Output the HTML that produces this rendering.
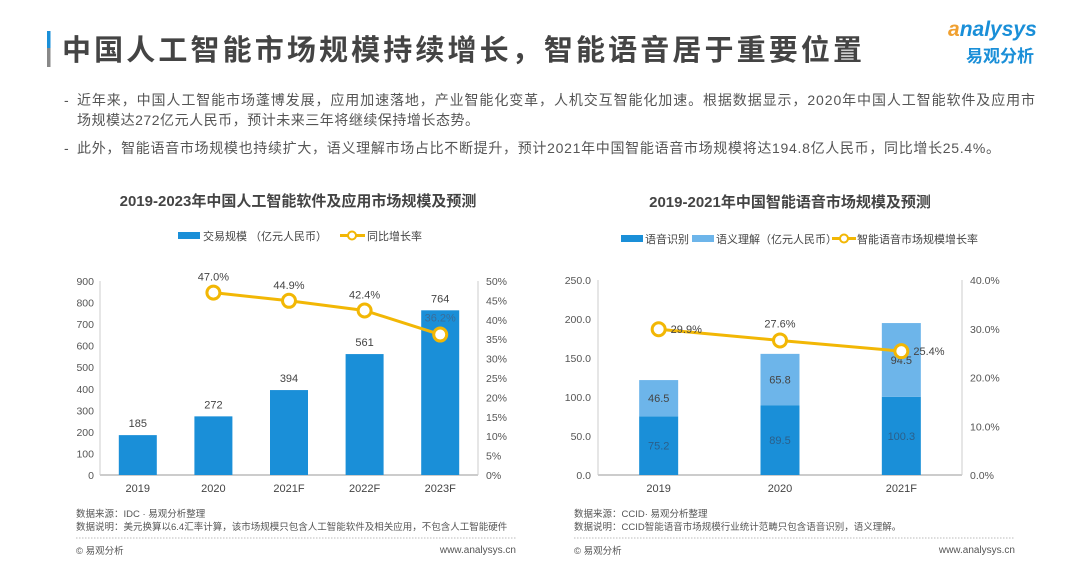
<!DOCTYPE html>
<html><head><meta charset="utf-8"><style>
html,body{margin:0;padding:0;background:#fff;}
svg{display:block;font-family:"Liberation Sans","Noto Sans CJK SC",sans-serif;}
</style></head><body>
<svg id="s" width="1080" height="578" viewBox="0 0 1080 578">
<rect x="47" y="31" width="3.5" height="17" fill="#1a8fd8"/>
<rect x="47" y="48" width="3.5" height="19" fill="#888"/>
<text x="62" y="60" font-size="29" font-weight="bold" fill="#444" textLength="800">中国人工智能市场规模持续增长，智能语音居于重要位置</text>
<g>
<text x="948" y="36" font-size="21" font-weight="bold" fill="#1a8fd8" font-style="italic"><tspan fill="#f0a030">a</tspan>nalysys</text>
<text x="966" y="62" font-size="17" font-weight="bold" fill="#1a8fd8">易观分析</text>
</g>
<g font-size="14" fill="#555">
<text x="64" y="105">-</text>
<text x="77" y="105" textLength="958">近年来，中国人工智能市场蓬博发展，应用加速落地，产业智能化变革，人机交互智能化加速。根据数据显示，2020年中国人工智能软件及应用市</text>
<text x="77" y="125" textLength="402">场规模达272亿元人民币，预计未来三年将继续保持增长态势。</text>
<text x="64" y="153">-</text>
<text x="77" y="153" textLength="923">此外，智能语音市场规模也持续扩大，语义理解市场占比不断提升，预计2021年中国智能语音市场规模将达194.8亿人民币，同比增长25.4%。</text>
</g>
<g id="c1"></g>
<g id="c2"></g>
</svg>
<script>
const c1Categories=["2019","2020","2021F","2022F","2023F"];
const c1Values=[185,272,394,561,764];
const c1Growth=[null,47.0,44.9,42.4,36.2];
const c1LeftTicks=[0,100,200,300,400,500,600,700,800,900];
const c1RightTicks=[0,5,10,15,20,25,30,35,40,45,50];

const c2Categories=["2019","2020","2021F"];
const c2Speech=[75.2,89.5,100.3];
const c2Semantic=[46.5,65.8,94.5];
const c2Growth=[29.9,27.6,25.4];
const c2LeftTicks=[0,50,100,150,200,250];
const c2RightTicks=[0,10,20,30,40];

const NS="http://www.w3.org/2000/svg";
function mk(parent,tag,attrs,txt){const e=document.createElementNS(NS,tag);for(const k in attrs)e.setAttribute(k,attrs[k]);if(txt!==undefined)e.textContent=txt;parent.appendChild(e);return e;}
const BLUE="#1a8fd8",LIGHT="#6db5ea",YEL="#f2b705",AX="#555";

function common(g,o){
  let t=mk(g,'text',{x:o.cx,y:o.ty,'font-size':15,'font-weight':'bold',fill:'#444','text-anchor':'middle'},o.title);
  
  
  mk(g,'line',{x1:o.x0,y1:o.y0,x2:o.x1,y2:o.y0,stroke:'#999'});
  mk(g,'line',{x1:o.x0,y1:o.y0,x2:o.x0,y2:o.yt,stroke:'#ccc'});
  mk(g,'line',{x1:o.x1,y1:o.y0,x2:o.x1,y2:o.yt,stroke:'#ccc'});
  const s1=mk(g,'text',{x:o.fx,y:517,'font-size':9.5,fill:'#555'},o.src);
  
  
  const s2=mk(g,'text',{x:o.fx,y:530,'font-size':9.5,fill:'#555'},o.note);
  
  
  mk(g,'line',{x1:o.fx,y1:538,x2:o.fr,y2:538,stroke:'#bbb','stroke-dasharray':'1.5 1.5'});
  const c=mk(g,'text',{x:o.fx,y:554,'font-size':9.5,fill:'#555'},'© 易观分析');
  
  
  const w=mk(g,'text',{x:o.fr,y:553,'font-size':10,fill:'#555','text-anchor':'end'},'www.analysys.cn');
  
  
}

// Chart 1
(function(){
  const g=document.getElementById('c1');
  const x0=100,x1=478,y0=475,yt=281;
  const yL=v=>y0-(v/900)*(y0-yt);
  const yR=v=>y0-(v/50)*(y0-yt);
  const step=(x1-x0)/c1Categories.length;
  const xc=i=>x0+step*(i+0.5);
  common(g,{cx:298,ty:206,title:'2019-2023年中国人工智能软件及应用市场规模及预测',x0,x1,y0,yt,fx:76,fr:516,
    src:'数据来源：IDC · 易观分析整理',note:'数据说明：美元换算以6.4汇率计算，该市场规模只包含人工智能软件及相关应用，不包含人工智能硬件'});
  let e;
  e=mk(g,'rect',{x:178,y:232,width:22,height:7,fill:BLUE});
  
  
  e=mk(g,'text',{x:203,y:240,'font-size':11,fill:'#444'},'交易规模 （亿元人民币）');
  
  
  mk(g,'line',{x1:340,y1:235.5,x2:365,y2:235.5,stroke:YEL,'stroke-width':3});
  e=mk(g,'circle',{cx:352,cy:235.5,r:4,fill:'#fff',stroke:YEL,'stroke-width':2});
  
  
  e=mk(g,'text',{x:367,y:240,'font-size':11,fill:'#444'},'同比增长率');
  
  
  c1LeftTicks.forEach(v=>{
    const t=mk(g,'text',{x:94,y:yL(v)+4,'font-size':10.5,fill:AX,'text-anchor':'end'},String(v));
    
    
  });
  c1RightTicks.forEach(v=>{
    const t=mk(g,'text',{x:486,y:yR(v)+4,'font-size':10.5,fill:AX},v+'%');
    
    
  });
  c1Categories.forEach((c,i)=>{
    const b=mk(g,'rect',{x:xc(i)-19,y:yL(c1Values[i]),width:38,height:y0-yL(c1Values[i]),fill:BLUE});
    
    
    const l=mk(g,'text',{x:xc(i),y:yL(c1Values[i])-8,'font-size':11,fill:'#444','text-anchor':'middle'},String(c1Values[i]));
    
    
    const xl=mk(g,'text',{x:xc(i),y:y0+17,'font-size':11,fill:'#444','text-anchor':'middle'},c);
    
    
  });
  const pts=[];
  c1Growth.forEach((v,i)=>{if(v!==null)pts.push([xc(i),yR(v),v]);});
  const ln=mk(g,'polyline',{points:pts.map(p=>p[0]+','+p[1]).join(' '),fill:'none',stroke:YEL,'stroke-width':3});
  
  
  pts.forEach((p,k)=>{
    const c=mk(g,'circle',{cx:p[0],cy:p[1],r:6.5,fill:'#fff',stroke:YEL,'stroke-width':3});
    
    
    const last=k===pts.length-1;
    const t=mk(g,'text',{x:p[0],y:last?p[1]-13:p[1]-12,'font-size':11,fill:last?'#3a6d99':'#444','text-anchor':'middle'},p[2].toFixed(1)+'%');
    
    
  });
})();

// Chart 2
(function(){
  const g=document.getElementById('c2');
  const x0=598,x1=962,y0=475,yt=280;
  const yL=v=>y0-(v/250)*(y0-yt);
  const yR=v=>y0-(v/40)*(y0-yt);
  const step=(x1-x0)/c2Categories.length;
  const xc=i=>x0+step*(i+0.5);
  common(g,{cx:790,ty:207,title:'2019-2021年中国智能语音市场规模及预测',x0,x1,y0,yt,fx:574,fr:1015,
    src:'数据来源：CCID· 易观分析整理',note:'数据说明：CCID智能语音市场规模行业统计范畴只包含语音识别，语义理解。'});
  let e;
  e=mk(g,'rect',{x:621,y:235,width:22,height:7,fill:BLUE});
  
  
  e=mk(g,'text',{x:645,y:243,'font-size':11,fill:'#444'},'语音识别');
  
  
  e=mk(g,'rect',{x:692,y:235,width:22,height:7,fill:LIGHT});
  
  
  e=mk(g,'text',{x:716,y:243,'font-size':11,fill:'#444'},'语义理解（亿元人民币）');
  
  
  mk(g,'line',{x1:832,y1:238.5,x2:856,y2:238.5,stroke:YEL,'stroke-width':3});
  e=mk(g,'circle',{cx:844,cy:238.5,r:4,fill:'#fff',stroke:YEL,'stroke-width':2});
  
  
  e=mk(g,'text',{x:857,y:243,'font-size':11,fill:'#444'},'智能语音市场规模增长率');
  
  
  c2LeftTicks.forEach(v=>{
    const t=mk(g,'text',{x:591,y:yL(v)+4,'font-size':10.5,fill:AX,'text-anchor':'end'},v.toFixed(1));
    
    
  });
  c2RightTicks.forEach(v=>{
    const t=mk(g,'text',{x:970,y:yR(v)+4,'font-size':10.5,fill:AX},v.toFixed(1)+'%');
    
    
  });
  c2Categories.forEach((c,i)=>{
    const s=c2Speech[i],m=c2Semantic[i];
    const b1=mk(g,'rect',{x:xc(i)-19.5,y:yL(s),width:39,height:y0-yL(s),fill:BLUE});
    
    
    const b2=mk(g,'rect',{x:xc(i)-19.5,y:yL(s+m),width:39,height:yL(s)-yL(s+m),fill:LIGHT});
    
    
    const l1=mk(g,'text',{x:xc(i),y:(yL(s)+y0)/2+4,'font-size':11,fill:'#2b5f8a','text-anchor':'middle'},s.toFixed(1));
    
    
    const l2=mk(g,'text',{x:xc(i),y:(yL(s)+yL(s+m))/2+4,'font-size':11,fill:'#444','text-anchor':'middle'},m.toFixed(1));
    
    
    const xl=mk(g,'text',{x:xc(i),y:y0+17,'font-size':11,fill:'#444','text-anchor':'middle'},c);
    
    
  });
  const pts=c2Growth.map((v,i)=>[xc(i),yR(v),v]);
  const ln=mk(g,'polyline',{points:pts.map(p=>p[0]+','+p[1]).join(' '),fill:'none',stroke:YEL,'stroke-width':3});
  
  
  pts.forEach((p,k)=>{
    const c=mk(g,'circle',{cx:p[0],cy:p[1],r:6.5,fill:'#fff',stroke:YEL,'stroke-width':3});
    
    
    const above=k===1;
    const t=mk(g,'text',{x:above?p[0]:p[0]+12,y:above?p[1]-13:p[1]+4,'font-size':11,fill:'#444','text-anchor':above?'middle':'start'},p[2].toFixed(1)+'%');
    
    
  });
})();
</script>
</body></html>
